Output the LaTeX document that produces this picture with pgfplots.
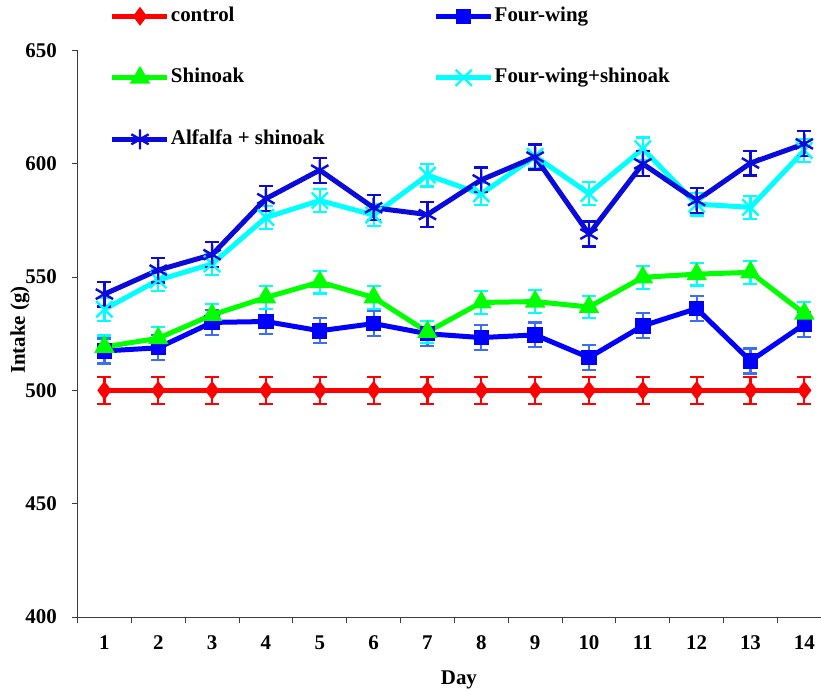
\documentclass[border=0pt]{standalone}
\usepackage{fontspec}
\setmainfont{Liberation Serif}
\usepackage{pgfplots}
\usepackage{pgfplotstable}
\pgfplotsset{compat=1.18}

\definecolor{ctrlred}{RGB}{255,0,0}
\definecolor{fwblue}{RGB}{0,0,255}
\definecolor{fwerr}{RGB}{60,110,245}
\definecolor{shgreen}{RGB}{0,255,0}
\definecolor{fscyan}{RGB}{0,255,255}
\definecolor{alblue}{RGB}{10,10,220}
\definecolor{axisgray}{RGB}{60,60,60}

% daily intake (g): mean and standard error
\pgfplotstableread{
day mean err
1  500 6
2  500 6
3  500 6
4  500 6
5  500 6
6  500 6
7  500 6
8  500 6
9  500 6
10 500 6
11 500 6
12 500 6
13 500 6
14 500 6
}\control
\pgfplotstableread{
day mean err
1  517.4 5.5
2  518.8 5.5
3  530.0 5.5
4  530.4 5.5
5  526.3 5.5
6  529.5 5.5
7  525.0 5.5
8  523.3 5.5
9  524.5 5.5
10 514.5 5.5
11 528.5 5.5
12 536.1 5.5
13 513.0 5.5
14 529.2 5.5
}\fourwing
\pgfplotstableread{
day mean err
1  519.2 5
2  523.0 5
3  533.3 5
4  541.0 5
5  547.8 5
6  541.0 5
7  525.8 5
8  538.8 5
9  539.2 5
10 536.8 5
11 549.9 5
12 551.3 5
13 552.1 5
14 533.9 5
}\shinoak
\pgfplotstableread{
day mean err
1  535.8 5
2  548.7 5
3  555.8 5
4  576.3 5
5  583.8 5
6  577.4 5
7  595.0 5
8  586.7 5
9  603.3 5
10 586.9 5
11 606.6 5
12 582.2 5
13 580.8 5
14 605.9 5
}\fwshinoak
\pgfplotstableread{
day mean err
1  542.5 5.5
2  553.1 5.5
3  559.9 5.5
4  584.6 5.5
5  597.2 5.5
6  580.6 5.5
7  577.6 5.5
8  592.9 5.5
9  603.0 5.5
10 569.0 5.5
11 600.0 5.5
12 583.8 5.5
13 600.3 5.5
14 608.8 5.5
}\alfalfa

\pgfplotsset{
  series/.style n args={4}{% line colour, mark, mark size, error-bar colour
    color=#1, line width=5bp, mark=#2, mark size=#3,
    mark options={solid, line width=2.4bp, fill=#1, draw=#1},
    error bars/.cd, y dir=both, y explicit,
    error bar style={color=#4, line width=2.2bp},
    error mark options={rotate=90, mark size=7bp, line width=2.2bp, color=#4},
  },
}

\begin{document}
\begin{tikzpicture}
\useasboundingbox (0,0) rectangle (821bp,691bp);
\begin{axis}[
  at={(77.5bp,74bp)}, anchor=south west,
  scale only axis, width=743.5bp, height=566.5bp,
  xmin=0.5, xmax=14.31, ymin=400, ymax=650,
  axis lines*=left,
  axis line style={axisgray, line width=0.9bp},
  xtick={1,...,14}, minor xtick={0.5,1.5,...,13.5},
  ytick={400,450,...,650},
  major x tick style={draw=none},
  minor x tick style={axisgray, line width=0.9bp},
  major y tick style={axisgray, line width=0.9bp},
  tick align=outside, major tick length=5.5bp, minor tick length=5.5bp,
  /pgf/number format/assume math mode=true,
  /pgf/number format/1000 sep={},
  tick label style={font=\fontsize{21}{25}\selectfont\bfseries},
  yticklabel style={inner sep=0pt, xshift=-15bp},
  xticklabel style={inner sep=0pt, yshift=-13bp},
  label style={font=\fontsize{21}{25}\selectfont\bfseries},
  xlabel={Day},
  ylabel={Intake (g)},
  xlabel style={at={(axis description cs:0.513,-0.111)}, anchor=center, inner sep=0pt},
  ylabel style={at={(axis description cs:-0.0773,0.5066)}, anchor=center, inner sep=0pt},
  legend columns=2,
  legend cell align=left,
  legend image code/.code={
    \draw[#1, mark repeat=2, mark phase=2] plot coordinates {(0bp,0bp) (27.5bp,0bp) (55bp,0bp)};
  },
  legend style={
    draw=none, fill=none, inner sep=0pt, outer sep=0pt,
    at={(axis description cs:0.0437,1.0785)}, anchor=north west,
    font=\fontsize{21}{25}\selectfont\bfseries,
    nodes={inner sep=1bp, text height=14bp, text depth=4.5bp},
    row sep=41bp,
    /tikz/column 1/.style={column sep=0bp},
    /tikz/column 2/.style={column sep=108bp},
    /tikz/column 3/.style={column sep=0bp},
  },
]
\addplot[series={ctrlred}{diamond*}{7.5bp}{ctrlred}]
  table[x=day, y=mean, y error=err] {\control};
\addlegendentry{control}
\addplot[series={fwblue}{square*}{6.5bp}{fwerr}]
  table[x=day, y=mean, y error=err] {\fourwing};
\addlegendentry{Four-wing}
\addplot[series={shgreen}{triangle*}{9.5bp}{fscyan}]
  table[x=day, y=mean, y error=err] {\shinoak};
\addlegendentry{Shinoak}
\addplot[series={fscyan}{x}{11.5bp}{fscyan}]
  table[x=day, y=mean, y error=err] {\fwshinoak};
\addlegendentry{Four-wing+shinoak}
\addplot[series={alblue}{asterisk}{10bp}{alblue}]
  table[x=day, y=mean, y error=err] {\alfalfa};
\addlegendentry{Alfalfa + shinoak}
\end{axis}
\end{tikzpicture}
\end{document}
